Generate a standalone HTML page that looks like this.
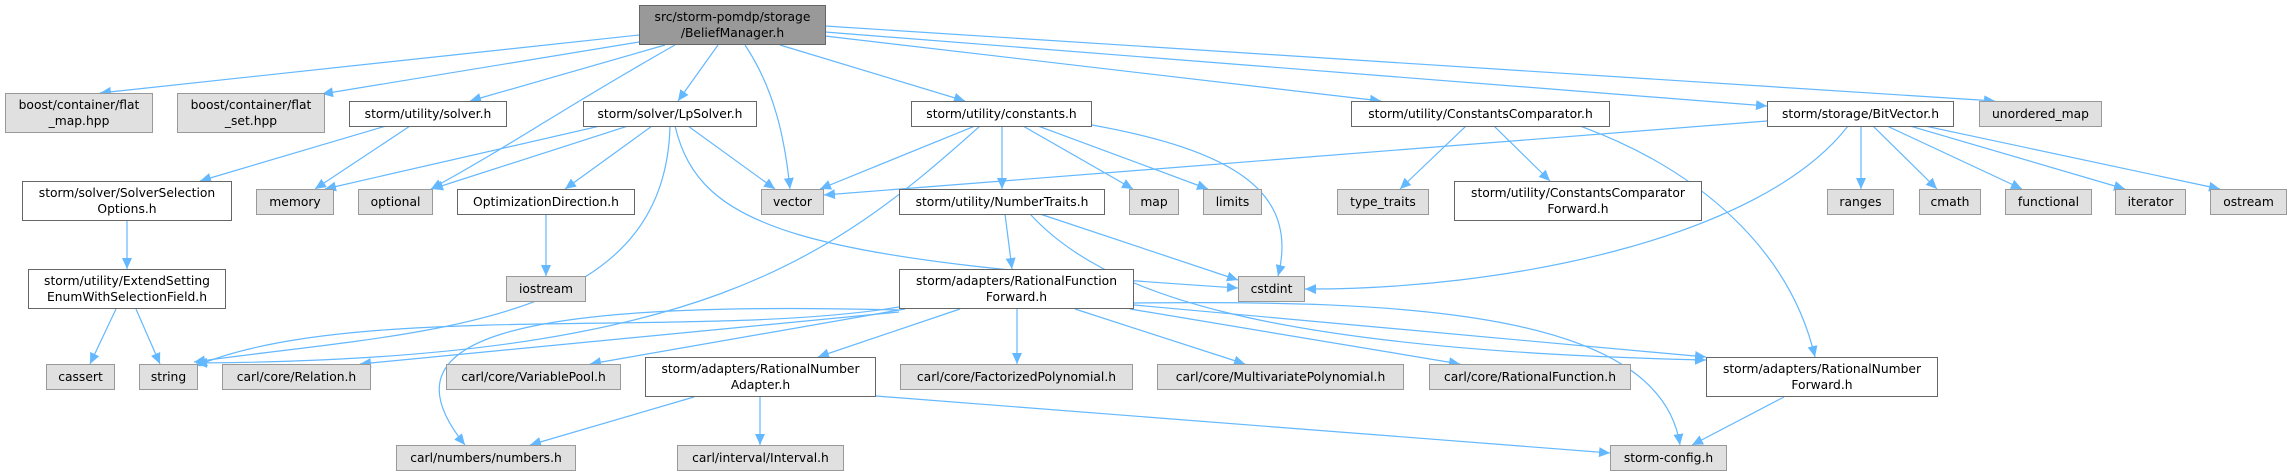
<!DOCTYPE html>
<html><head><meta charset="utf-8">
<style>
body{margin:0;width:2292px;height:476px;background:#fff;position:relative;overflow:hidden;font-family:"DejaVu Sans","Liberation Sans",sans-serif;}
.b{position:absolute;box-sizing:border-box;border:1px solid #666;background:#fff;color:#000;font-size:12.3px;line-height:16px;text-align:center;display:flex;align-items:center;justify-content:center;white-space:nowrap;}
.g{background:#e0e0e0;border-color:#999;}
.r{background:#999;border-color:#666;}
svg{position:absolute;left:0;top:0;}
</style></head><body>
<svg width="2292" height="476" id="s">
<defs><marker id="a" markerUnits="userSpaceOnUse" markerWidth="12" markerHeight="12" refX="11" refY="5" orient="auto"><path d="M0,0 L11,5 L0,10 Z" fill="#63b8ff"/></marker></defs>
<g fill="none" stroke="#63b8ff" stroke-width="1.2" marker-end="url(#a)">
<path d="M639,35 L100,93"/>
<path d="M639,42 L322,94"/>
<path d="M665,45 L470,101"/>
<path d="M675,45 C560,110 520,140 431,189"/>
<path d="M718,45 L678,101"/>
<path d="M745,45 C775,90 785,140 790,189"/>
<path d="M780,45 L965,101"/>
<path d="M825,36 L1381,101"/>
<path d="M825,32 L1767,106"/>
<path d="M825,26 L1995,101"/>
<path d="M386,126 L200,181"/>
<path d="M410,126 L315,189"/>
<path d="M600,126 L325,189"/>
<path d="M628,126 L432,189"/>
<path d="M652,126 L565,189"/>
<path d="M688,126 L775,189"/>
<path d="M670,126 C665,330 420,330 194,362"/>
<path d="M675,126 C700,230 800,260 1238,288"/>
<path d="M546,214 L546,276"/>
<path d="M127,221 L127,269"/>
<path d="M116,309 L90,364"/>
<path d="M136,309 L160,364"/>
<path d="M975,126 L820,189"/>
<path d="M980,126 C830,260 700,360 196,363"/>
<path d="M1002,126 L1002,189"/>
<path d="M1023,126 L1133,189"/>
<path d="M1038,126 L1208,189"/>
<path d="M1092,125 C1230,150 1300,190 1278,276"/>
<path d="M1466,126 L1400,189"/>
<path d="M1494,126 L1550,181"/>
<path d="M1580,126 C1700,170 1790,250 1815,357"/>
<path d="M1767,121 L824,195"/>
<path d="M1848,126 C1760,240 1500,290 1305,289"/>
<path d="M1861,126 L1861,189"/>
<path d="M1873,126 L1937,189"/>
<path d="M1887,126 L2022,189"/>
<path d="M1910,126 L2125,189"/>
<path d="M1925,126 L2220,189"/>
<path d="M1005,214 L1012,269"/>
<path d="M1040,214 L1238,280"/>
<path d="M1030,214 C1100,290 1250,350 1706,360"/>
<path d="M899,307 C700,340 350,300 196,366"/>
<path d="M899,312 L360,364"/>
<path d="M905,309 L590,364"/>
<path d="M899,310 C500,300 380,340 465,445"/>
<path d="M960,309 L818,357"/>
<path d="M1017,309 L1017,364"/>
<path d="M1075,309 L1245,364"/>
<path d="M1130,309 L1460,364"/>
<path d="M1134,305 L1706,357"/>
<path d="M1134,303 C1400,300 1660,310 1680,445"/>
<path d="M694,397 L530,445"/>
<path d="M760,397 L760,445"/>
<path d="M876,396 L1610,453"/>
<path d="M1784,397 L1692,445"/>
</g></svg>
<div class="b r" style="left:639px;top:5px;width:187px;height:40px">src/storm-pomdp/storage<br>/BeliefManager.h</div>
<div class="b g" style="left:5px;top:93px;width:148px;height:40px">boost/container/flat<br>_map.hpp</div>
<div class="b g" style="left:177px;top:93px;width:148px;height:40px">boost/container/flat<br>_set.hpp</div>
<div class="b" style="left:349px;top:101px;width:158px;height:26px">storm/utility/solver.h</div>
<div class="b" style="left:583px;top:101px;width:174px;height:26px">storm/solver/LpSolver.h</div>
<div class="b" style="left:911px;top:101px;width:181px;height:26px">storm/utility/constants.h</div>
<div class="b" style="left:1351px;top:101px;width:259px;height:26px">storm/utility/ConstantsComparator.h</div>
<div class="b" style="left:1767px;top:101px;width:187px;height:26px">storm/storage/BitVector.h</div>
<div class="b g" style="left:1979px;top:101px;width:123px;height:26px">unordered_map</div>
<div class="b" style="left:22px;top:181px;width:210px;height:40px">storm/solver/SolverSelection<br>Options.h</div>
<div class="b g" style="left:256px;top:189px;width:78px;height:26px">memory</div>
<div class="b g" style="left:358px;top:189px;width:75px;height:26px">optional</div>
<div class="b" style="left:457px;top:189px;width:178px;height:26px">OptimizationDirection.h</div>
<div class="b g" style="left:761px;top:189px;width:63px;height:26px">vector</div>
<div class="b" style="left:899px;top:189px;width:206px;height:26px">storm/utility/NumberTraits.h</div>
<div class="b g" style="left:1129px;top:189px;width:50px;height:26px">map</div>
<div class="b g" style="left:1203px;top:189px;width:59px;height:26px">limits</div>
<div class="b g" style="left:1337px;top:189px;width:92px;height:26px">type_traits</div>
<div class="b" style="left:1454px;top:181px;width:248px;height:40px">storm/utility/ConstantsComparator<br>Forward.h</div>
<div class="b g" style="left:1827px;top:189px;width:67px;height:26px">ranges</div>
<div class="b g" style="left:1919px;top:189px;width:62px;height:26px">cmath</div>
<div class="b g" style="left:2005px;top:189px;width:87px;height:26px">functional</div>
<div class="b g" style="left:2115px;top:189px;width:71px;height:26px">iterator</div>
<div class="b g" style="left:2210px;top:189px;width:77px;height:26px">ostream</div>
<div class="b" style="left:28px;top:269px;width:198px;height:40px">storm/utility/ExtendSetting<br>EnumWithSelectionField.h</div>
<div class="b g" style="left:506px;top:276px;width:80px;height:26px">iostream</div>
<div class="b" style="left:899px;top:269px;width:235px;height:40px">storm/adapters/RationalFunction<br>Forward.h</div>
<div class="b g" style="left:1238px;top:276px;width:67px;height:26px">cstdint</div>
<div class="b g" style="left:46px;top:364px;width:69px;height:26px">cassert</div>
<div class="b g" style="left:139px;top:364px;width:59px;height:26px">string</div>
<div class="b g" style="left:222px;top:364px;width:149px;height:26px">carl/core/Relation.h</div>
<div class="b g" style="left:446px;top:364px;width:175px;height:26px">carl/core/VariablePool.h</div>
<div class="b" style="left:645px;top:357px;width:231px;height:40px">storm/adapters/RationalNumber<br>Adapter.h</div>
<div class="b g" style="left:900px;top:364px;width:233px;height:26px">carl/core/FactorizedPolynomial.h</div>
<div class="b g" style="left:1157px;top:364px;width:247px;height:26px">carl/core/MultivariatePolynomial.h</div>
<div class="b g" style="left:1429px;top:364px;width:202px;height:26px">carl/core/RationalFunction.h</div>
<div class="b" style="left:1706px;top:357px;width:232px;height:40px">storm/adapters/RationalNumber<br>Forward.h</div>
<div class="b g" style="left:396px;top:445px;width:180px;height:26px">carl/numbers/numbers.h</div>
<div class="b g" style="left:677px;top:445px;width:167px;height:26px">carl/interval/Interval.h</div>
<div class="b g" style="left:1610px;top:445px;width:117px;height:26px">storm-config.h</div>
</body></html>
